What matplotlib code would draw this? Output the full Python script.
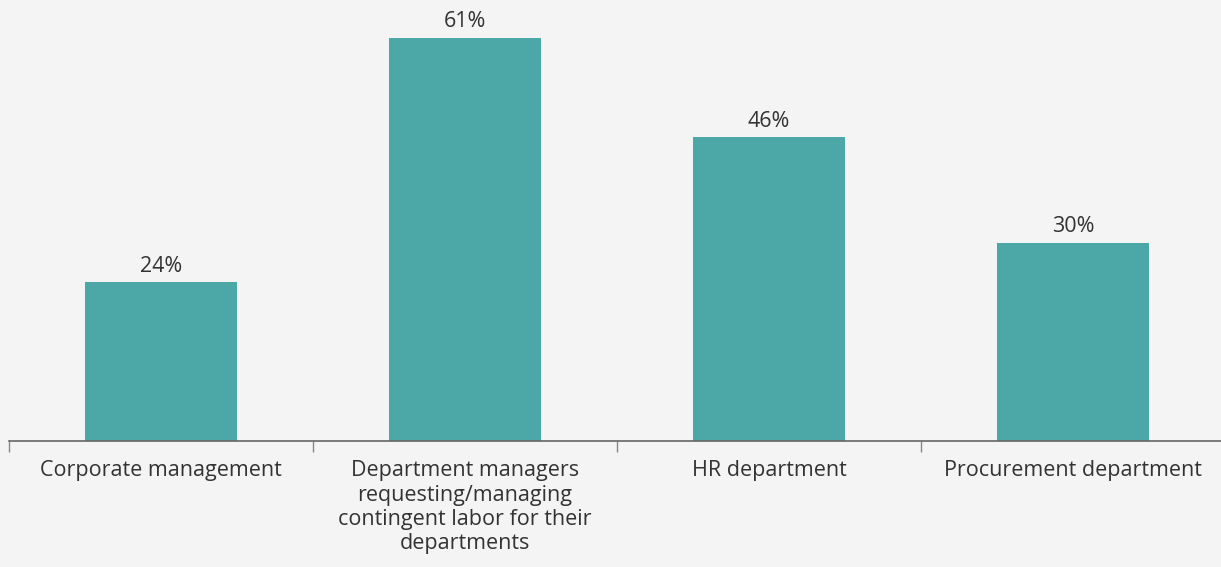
import matplotlib.pyplot as plt

categories = [
    "Corporate management",
    "Department managers\nrequesting/managing\ncontingent labor for their\ndepartments",
    "HR department",
    "Procurement department",
]
shares = [24, 61, 46, 30]

bg = "#f4f4f4"
teal = "#4ba8a6"
text_color = "#333333"

plt.rcParams["font.family"] = ["Open Sans", "DejaVu Sans"]

fig = plt.figure(figsize=(12.21, 5.67), dpi=100, facecolor=bg)
ax = fig.add_axes([9 / 1221, 126 / 567, 1216 / 1221, 441 / 567])
ax.set_facecolor(bg)

x = list(range(len(categories)))
ax.bar(x, shares, width=0.5, color=teal, zorder=2)

for xi, v in zip(x, shares):
    ax.annotate(f"{v}%", (xi, v), xytext=(0, 4), textcoords="offset points",
                ha="center", va="bottom", fontsize=15.5, color=text_color)

ax.set_xlim(-0.5, 3.5)
ax.set_ylim(0, 66.75)

# category labels sit between boundary ticks
ax.set_xticks(x)
ax.set_xticklabels(categories, fontsize=15.5, color=text_color, linespacing=1.2, va="top")
ax.tick_params(axis="x", which="major", length=0, pad=14)
ax.set_xticks([-0.5, 0.5, 1.5, 2.5, 3.5], minor=True)
ax.tick_params(axis="x", which="minor", length=8, width=1, color="#888888")
ax.set_yticks([])

for side in ["top", "right", "left"]:
    ax.spines[side].set_visible(False)
ax.spines["bottom"].set_color("#666666")
ax.spines["bottom"].set_linewidth(1.2)

fig.savefig("out.png", dpi=100, facecolor=bg)
